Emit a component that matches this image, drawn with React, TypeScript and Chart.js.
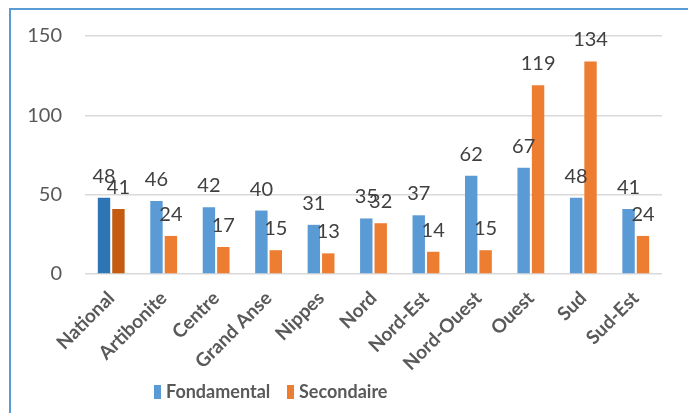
import { useEffect, useRef } from "react";
import { Chart, registerables } from "chart.js";

Chart.register(...registerables);

const regions = [
  "National",
  "Artibonite",
  "Centre",
  "Grand Anse",
  "Nippes",
  "Nord",
  "Nord-Est",
  "Nord-Ouest",
  "Ouest",
  "Sud",
  "Sud-Est",
];
const fondamental = [48, 46, 42, 40, 31, 35, 37, 62, 67, 48, 41];
const secondaire = [41, 24, 17, 15, 13, 32, 14, 15, 119, 134, 24];
const yMax = 150;
const yStep = 50;

const BLUE = "#5B9BD5";
const BLUE_DARK = "#2E75B6";
const ORANGE = "#ED7D31";
const ORANGE_DARK = "#C55A11";
const FONT = "Lato, 'Liberation Sans', sans-serif";

// National totals get the darker shade of each series colour
const shade = (base: string, dark: string) =>
  regions.map((r) => (r === "National" ? dark : base));

const valueLabels = {
  id: "valueLabels",
  afterDatasetsDraw(chart: any) {
    const { ctx } = chart;
    ctx.save();
    ctx.font = `20px ${FONT}`;
    ctx.fillStyle = "#404040";
    ctx.textAlign = "center";
    ctx.textBaseline = "alphabetic";
    chart.data.datasets.forEach((ds: any, i: number) => {
      const meta = chart.getDatasetMeta(i);
      meta.data.forEach((bar: any, j: number) => {
        ctx.fillText(String(ds.data[j]), bar.x, bar.y - 15);
      });
    });
    ctx.restore();
  },
};

const frameAndLegend = {
  id: "frameAndLegend",
  afterDraw(chart: any) {
    const { ctx, width, height } = chart;
    ctx.save();
    // frame
    ctx.strokeStyle = "#5B9BD5";
    ctx.lineWidth = 2;
    ctx.beginPath();
    ctx.moveTo(10, height);
    ctx.lineTo(10, 9);
    ctx.lineTo(width, 9);
    ctx.stroke();

    // legend
    const items = [
      { label: chart.data.datasets[0].label, color: BLUE, x: 154 },
      { label: chart.data.datasets[1].label, color: ORANGE, x: 287 },
    ];
    ctx.font = `bold 18px ${FONT}`;
    ctx.textBaseline = "middle";
    ctx.textAlign = "left";
    items.forEach((it) => {
      ctx.fillStyle = it.color;
      ctx.fillRect(it.x, 385, 7, 14);
      ctx.fillStyle = "#595959";
      ctx.fillText(it.label, it.x + 12, 392);
    });
    ctx.restore();
  },
};

export default function App() {
  const canvasRef = useRef<HTMLCanvasElement | null>(null);

  useEffect(() => {
    if (!canvasRef.current) return;
    const chart = new Chart(canvasRef.current, {
      type: "bar",
      data: {
        labels: regions,
        datasets: [
          {
            label: "Fondamental",
            data: fondamental,
            backgroundColor: shade(BLUE, BLUE_DARK),
            categoryPercentage: 0.55,
            barPercentage: 0.86,
          },
          {
            label: "Secondaire",
            data: secondaire,
            backgroundColor: shade(ORANGE, ORANGE_DARK),
            categoryPercentage: 0.55,
            barPercentage: 0.86,
          },
        ],
      },
      options: {
        responsive: false,
        animation: false,
        layout: { padding: { top: 36, right: 26, left: 0, bottom: 0 } },
        plugins: {
          legend: { display: false },
          tooltip: { enabled: false },
        },
        scales: {
          x: {
            grid: { display: false },
            border: { display: false },
            ticks: {
              minRotation: 45,
              maxRotation: 45,
              padding: 5,
              color: "#595959",
              font: { family: FONT, size: 19, weight: "bold" },
            },
            afterFit: (scale: any) => {
              scale.height = 139;
            },
          },
          y: {
            min: 0,
            max: yMax,
            border: { display: false },
            grid: { color: "#D9D9D9", lineWidth: 1.5, drawTicks: false },
            ticks: {
              stepSize: yStep,
              padding: 23,
              color: "#595959",
              font: { family: FONT, size: 20 },
            },
            afterFit: (scale: any) => {
              scale.width = 85;
            },
          },
        },
      },
      plugins: [valueLabels, frameAndLegend],
    });
    return () => chart.destroy();
  }, []);

  return (
    <div style={{ position: "absolute", left: 0, top: 0, width: 688, height: 413, background: "#fff" }}>
      <canvas ref={canvasRef} width={688} height={413} />
    </div>
  );
}
